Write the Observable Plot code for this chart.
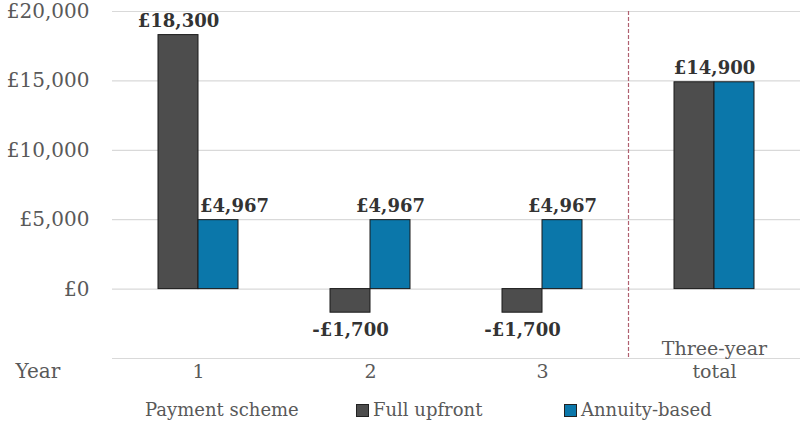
<!DOCTYPE html>
<html><head><meta charset="utf-8">
<script src="https://cdn.jsdelivr.net/npm/d3@7"></script>
<script src="https://cdn.jsdelivr.net/npm/@observablehq/plot@0.6"></script>
<style>
body{margin:0;background:#fff;font-family:"DejaVu Serif",serif;}
#legend{position:relative;height:40px;width:800px;color:#595959;font-size:18px;}
#legend span.item{position:absolute;top:0;line-height:40px;white-space:nowrap}
.sw{display:inline-block;width:11px;height:11px;border:1px solid #222;vertical-align:middle;margin-right:4px;position:relative;top:-1px}
</style></head><body><div id="chart"></div><div id="legend"></div>
<script>
const categories = ["1", "2", "3", "Three-year total"];
const series = ["Full upfront", "Annuity-based"];
const fullUpfront = [18300, -1700, -1700, 14900];
const annuityBased = [4967, 4967, 4967, 14900];
const yTicks = [0, 5000, 10000, 15000, 20000];
const gridTicks = [-5000, 0, 5000, 10000, 15000, 20000];
const colors = ["#4d4d4d", "#0b77aa"];
const totalCategory = "Three-year total";

const rows = [];
categories.forEach((c, i) => {
  rows.push({cat: c, series: series[0], value: fullUpfront[i]});
  rows.push({cat: c, series: series[1], value: annuityBased[i]});
});
const fmt = d3.format(",");
const money = v => (v < 0 ? "-£" : "£") + fmt(Math.abs(v));
const barLabels = rows.filter(d => d.cat !== totalCategory);
// label that Excel nudged right to clear the tall neighbouring bar
const isNudged = d => d.cat === categories[0] && d.series === series[1];
const totalLabel = [{cat: totalCategory, value: fullUpfront[3]}];

const labelFont = {fontSize: 18, fontWeight: "bold", fill: "#333333"};

const chart = Plot.plot({
  width: 800, height: 390,
  marginLeft: 111, marginRight: 0, marginTop: 11, marginBottom: 32,
  style: {fontFamily: "'DejaVu Serif', serif", background: "#fff"},
  fx: {domain: categories, paddingInner: 0, paddingOuter: 0, label: null},
  x: {domain: series, paddingInner: 0, paddingOuter: 1.1, axis: null},
  y: {domain: [-5000, 20000], axis: null},
  color: {domain: series, range: colors},
  marks: [
    Plot.gridY({ticks: gridTicks, stroke: "#d9d9d9", strokeOpacity: 1, strokeWidth: 1.2}),
    Plot.frame({anchor: "left", fx: () => totalCategory, stroke: "#b06070", strokeDasharray: "3,3", strokeWidth: 1.2}),
    Plot.barY(rows, {fx: "cat", x: "series", y: "value", fill: "series", stroke: "#1a1a1a", strokeWidth: 1}),
    Plot.text(barLabels.filter(d => d.value >= 0 && !isNudged(d)), {fx: "cat", x: "series", y: "value", text: d => money(d.value), lineAnchor: "bottom", dy: -8, ...labelFont}),
    Plot.text(barLabels.filter(d => isNudged(d)), {fx: "cat", x: "series", y: "value", text: d => money(d.value), lineAnchor: "bottom", dy: -8, dx: 16, ...labelFont}),
    Plot.text(barLabels.filter(d => d.value < 0), {fx: "cat", x: "series", y: "value", text: d => money(d.value), lineAnchor: "top", dy: 11, ...labelFont}),
    Plot.text(totalLabel, {fx: "cat", y: "value", text: d => money(d.value), lineAnchor: "bottom", dy: -8, ...labelFont}),
    Plot.axisY({ticks: yTicks, tickFormat: money, tickSize: 0, tickPadding: 23, fontSize: 20, fill: "#595959", label: null}),
    Plot.axisFx({anchor: "bottom", tickSize: 0, tickPadding: 19, lineAnchor: "bottom", lineHeight: 1.2, fontSize: 19, fill: "#595959", label: null,
      tickFormat: d => d === totalCategory ? "Three-year\ntotal" : d}),
    Plot.text(["Year"], {frameAnchor: "bottom-left", textAnchor: "start", lineAnchor: "bottom", dx: -97, dy: 19, fontSize: 20, fill: "#595959", facet: "super"})
  ]
});
document.getElementById("chart").appendChild(chart);

const legend = document.getElementById("legend");
const items = [{text: "Payment scheme", left: 145}];
series.forEach((s, i) => items.push({text: s, color: colors[i], left: [356, 564][i]}));
items.forEach(it => {
  const span = document.createElement("span");
  span.className = "item";
  span.style.left = it.left + "px";
  if (it.color) {
    const sw = document.createElement("span");
    sw.className = "sw";
    sw.style.background = it.color;
    span.appendChild(sw);
  }
  span.appendChild(document.createTextNode(it.text));
  legend.appendChild(span);
});
</script>
</body></html>
